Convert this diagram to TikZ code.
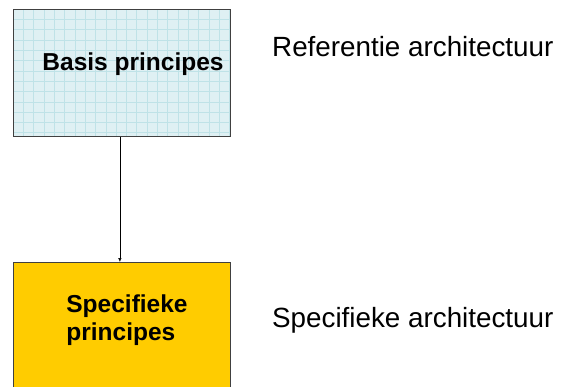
\documentclass[tikz,border=0pt]{standalone}
\usepackage{fontspec}
\setmainfont{Liberation Sans}
\usetikzlibrary{arrows.meta}
\definecolor{basisblauw}{HTML}{DFF0F3}
\definecolor{rasterblauw}{HTML}{BFE2E7}
\definecolor{specgeel}{HTML}{FFCC00}

\begin{document}
\begin{tikzpicture}[x=1pt,y=-1pt,
  blok/.style = {draw=black!75,line width=0.8pt,minimum width=217pt,minimum height=127pt,anchor=north west,inner sep=0pt},
  raster/.style = {rasterblauw,line width=0.35pt},
  kop/.style = {font=\fontsize{24.5}{28}\selectfont\bfseries,align=left,inner sep=0pt},
  opm/.style = {font=\fontsize{27.8}{32}\selectfont,anchor=west,inner sep=0pt}
  ]
\useasboundingbox (0,0) rectangle (561,386);
% blokken
\node[blok,fill=basisblauw] (basis) at (13,9) {};
\foreach \x in {1,...,21}
  \draw[raster] (13+10.3*\x,9) -- (13+10.3*\x,136);
\foreach \y in {1,...,12}
  \draw[raster] (13,9+10.3*\y) -- (230,9+10.3*\y);
\draw[black!75,line width=0.8pt] (basis.north west) rectangle (basis.south east);
\node[blok,fill=specgeel] (spec) at (13,262) {};

\node[kop] (basistxt) at (133,64) {Basis principes};
\node[kop] (spectxt) at (127,320) {Specifieke\\principes};

\node[opm] (ref) at (272,47) {Referentie architectuur};
\node[opm] (specarch) at (272,320) {Specifieke architectuur};

\draw[line width=0.6pt,-{Latex[length=4pt,width=3.5pt]}] ([xshift=-2pt]basis.south) -- ([xshift=-2pt]spec.north);
\end{tikzpicture}
\end{document}
